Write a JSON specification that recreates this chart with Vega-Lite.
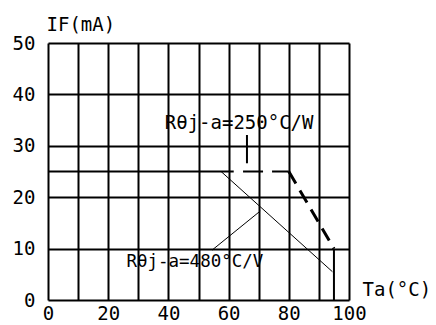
{
  "$schema": "https://vega.github.io/schema/vega-lite/v6.json",
  "autosize": "none",
  "width": 301,
  "height": 257,
  "padding": {"left": 48, "top": 43, "right": 87, "bottom": 25},
  "background": "white",
  "config": {
    "view": {"stroke": null},
    "axis": {
      "grid": true, "gridColor": "black", "gridWidth": 2, "gridOpacity": 1,
      "domain": false, "ticks": false, "labelOverlap": false, "labelFlush": false,
      "labelFont": "DejaVu Sans Mono", "labelFontSize": 19, "labelColor": "black",
      "titleFont": "DejaVu Sans Mono", "titleFontSize": 19, "titleFontWeight": "normal", "titleColor": "black"
    }
  },
  "layer": [
    {
      "data": {"values": [{"x": 95, "y": 0, "y2": 10}]},
      "mark": {"type": "rule", "color": "black", "strokeWidth": 2},
      "encoding": {
        "x": {"field": "x", "type": "quantitative", "scale": {"domain": [0, 100], "nice": false},
          "axis": {"values": [0,10,20,30,40,50,60,70,80,90,100], "tickCount": 20,
            "labelOpacity": {"condition": {"test": "datum.value % 20 != 0", "value": 0}, "value": 1},
            "labelPadding": 4, "title": "Ta(°C)", "titleAngle": 0, "titleAlign": "left", "titleBaseline": "middle", "titleX": 314, "titleY": -11}},
        "y": {"field": "y", "type": "quantitative", "scale": {"domain": [0, 50], "nice": false},
          "axis": {"values": [0,10,20,30,40,50], "tickCount": 20, "labelPadding": 13, "title": "IF(mA)", "titleAngle": 0, "titleAlign": "left", "titleBaseline": "middle", "titleX": -2, "titleY": -19}},
        "y2": {"field": "y2"}
      }
    },
    {
      "data": {"values": [{"x": 0, "y": 25}, {"x": 61.7, "y": 25}]},
      "mark": {"type": "line", "color": "black", "strokeWidth": 2},
      "encoding": {"x": {"field": "x", "type": "quantitative"}, "y": {"field": "y", "type": "quantitative"}}
    },
    {
      "data": {"values": [{"x": 64.8, "y": 25}, {"x": 80, "y": 25}]},
      "mark": {"type": "line", "color": "black", "strokeWidth": 2, "strokeDash": [20, 9]},
      "encoding": {"x": {"field": "x", "type": "quantitative"}, "y": {"field": "y", "type": "quantitative"}}
    },
    {
      "data": {"values": [{"x": 80, "y": 25}, {"x": 95, "y": 10}]},
      "mark": {"type": "line", "color": "black", "strokeWidth": 3, "strokeDash": [14, 8]},
      "encoding": {"x": {"field": "x", "type": "quantitative"}, "y": {"field": "y", "type": "quantitative"}}
    },
    {
      "data": {"values": [{"x": 57.5, "y": 25}, {"x": 94.5, "y": 5.5}]},
      "mark": {"type": "line", "color": "black", "strokeWidth": 1},
      "encoding": {"x": {"field": "x", "type": "quantitative"}, "y": {"field": "y", "type": "quantitative"}}
    },
    {
      "data": {"values": [{"x": 54.5, "y": 9.7}, {"x": 70.5, "y": 17.3}]},
      "mark": {"type": "line", "color": "black", "strokeWidth": 1},
      "encoding": {"x": {"field": "x", "type": "quantitative"}, "y": {"field": "y", "type": "quantitative"}}
    },
    {
      "data": {"values": [{"x": 66.1, "y": 26.6, "y2": 32.1}]},
      "mark": {"type": "rule", "color": "black", "strokeWidth": 2},
      "encoding": {"x": {"field": "x", "type": "quantitative"}, "y": {"field": "y", "type": "quantitative"}, "y2": {"field": "y2"}}
    },
    {
      "data": {"values": [{"x": 63.5, "y": 34.4, "label": "Rθj-a=250°C/W"}]},
      "mark": {"type": "text", "font": "DejaVu Sans Mono", "fontSize": 19, "color": "black", "align": "center", "baseline": "middle"},
      "encoding": {"x": {"field": "x", "type": "quantitative"}, "y": {"field": "y", "type": "quantitative"}, "text": {"field": "label"}}
    },
    {
      "data": {"values": [{"x": 48.8, "y": 7.4, "label": "Rθj-a=480°C/V"}]},
      "mark": {"type": "text", "font": "DejaVu Sans Mono", "fontSize": 17.5, "color": "black", "align": "center", "baseline": "middle"},
      "encoding": {"x": {"field": "x", "type": "quantitative"}, "y": {"field": "y", "type": "quantitative"}, "text": {"field": "label"}}
    }
  ]
}
